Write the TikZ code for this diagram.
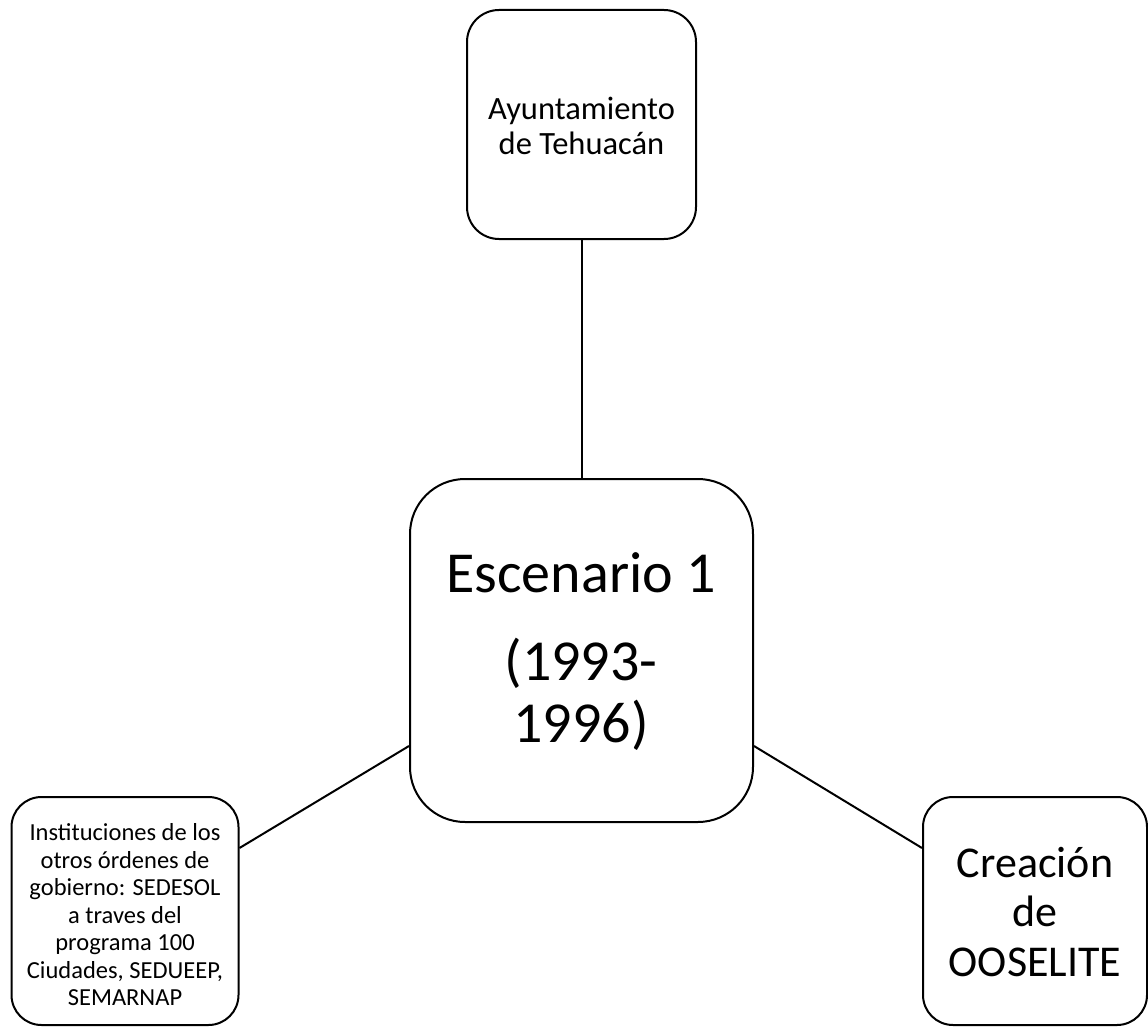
\documentclass[tikz,border=0pt]{standalone}
\usepackage{fontspec}
\setmainfont{Carlito}
\begin{document}
\begin{tikzpicture}[x=1pt,y=-1pt,
  box/.style={draw=black, line width=2pt, fill=white, rounded corners=#1, align=center, inner sep=0pt},
  link/.style={draw=black, line width=2pt}]
\useasboundingbox (0,0) rectangle (1148,1027);
\node[box=32pt, minimum width=229pt, minimum height=229pt] (top) at (581.5,124.5) {};
\node[align=center, inner sep=0pt, font=\fontsize{32.5}{35.5}\selectfont] (toptxt) at (581.5,126) {Ayuntamiento\\de Tehuacán};
\node[box=55pt, minimum width=343pt, minimum height=343pt] (mid) at (581.5,650.5) {};
\node[align=center, font=\fontsize{58}{62}\selectfont, inner sep=0pt] (midtxt) at (581,652) {Escenario 1\\[26pt](1993-\\1996)};
\node[box=30pt, minimum width=227pt, minimum height=228pt] (left) at (125,911) {};
\node[align=center, inner sep=0pt, font=\fontsize{24.5}{27.5}\selectfont] (lefttxt) at (125,915) {Instituciones de los\\otros órdenes de\\gobierno: SEDESOL\\a traves del\\programa 100\\Ciudades, SEDUEEP,\\SEMARNAP};
\node[box=30pt, minimum width=224pt, minimum height=228pt] (right) at (1035,911) {};
\node[align=center, inner sep=0pt, font=\fontsize{44}{49.5}\selectfont] (righttxt) at (1035,912) {Creación\\de\\OOSELITE};
\draw[link] (top.south) -- (mid.north);
\coordinate (lA) at (left.east |- 0,848);
\coordinate (lB) at (mid.west |- 0,746);
\coordinate (rA) at (right.west |- 0,848);
\coordinate (rB) at (mid.east |- 0,746);
\draw[link] (lA) -- (lB);
\draw[link] (rB) -- (rA);
\end{tikzpicture}
\end{document}
